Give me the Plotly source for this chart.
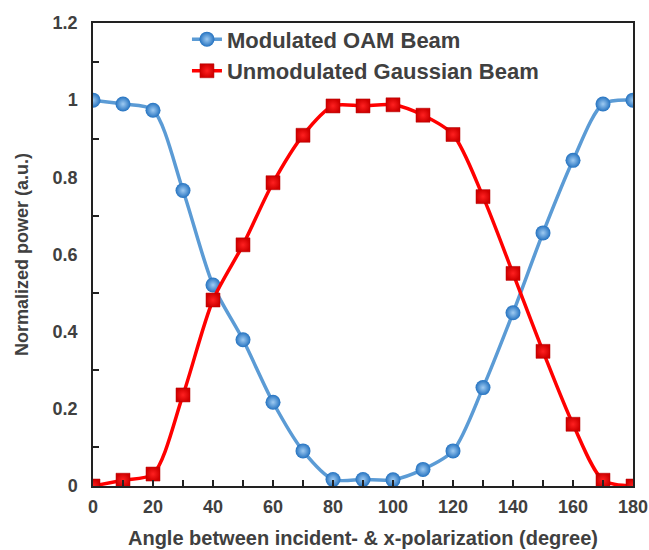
import plotly.graph_objects as go

angles = [0, 10, 20, 30, 40, 50, 60, 70, 80, 90, 100, 110, 120, 130, 140, 150, 160, 170, 180]
oam_power = [1.0, 0.99, 0.974, 0.766, 0.521, 0.379, 0.217, 0.091, 0.017, 0.017, 0.016, 0.043, 0.091, 0.255, 0.449, 0.656, 0.844, 0.99, 1.0]
gauss_power = [0.0, 0.015, 0.031, 0.236, 0.482, 0.625, 0.786, 0.909, 0.985, 0.985, 0.988, 0.961, 0.911, 0.75, 0.551, 0.349, 0.16, 0.015, 0.0]
series_names = ["Modulated OAM Beam", "Unmodulated Gaussian Beam"]
x_ticks = [0, 20, 40, 60, 80, 100, 120, 140, 160, 180]
y_ticks = [0, 0.2, 0.4, 0.6, 0.8, 1.0, 1.2]
y_tick_text = ["0", "0.2", "0.4", "0.6", "0.8", "1", "1.2"]

FONT = "Liberation Sans, Arial, sans-serif"
TXT = "#404040"

fig = go.Figure()
fig.add_trace(go.Scatter(
    x=angles, y=oam_power, name=series_names[0], mode="lines+markers",
    line=dict(color="#5B9BD5", width=3.5, shape="spline", smoothing=0.8),
    marker=dict(symbol="circle", size=15, color="#2472C0",
                gradient=dict(type="radial", color="#9FCBF2"),
                line=dict(width=0)),
))
fig.add_trace(go.Scatter(
    x=angles, y=gauss_power, name=series_names[1], mode="lines+markers",
    line=dict(color="#FF0000", width=3.5, shape="spline", smoothing=0.8),
    marker=dict(symbol="square", size=14, color="#D00000",
                gradient=dict(type="radial", color="#FF2020"),
                line=dict(width=0.5, color="#B00000")),
))

fig.update_layout(
    width=649, height=550,
    margin=dict(l=93, r=16, t=23, b=64),
    paper_bgcolor="white", plot_bgcolor="white",
    font=dict(family=FONT, color=TXT, size=18),
    showlegend=True,
    legend=dict(x=0.174, y=1.01, xanchor="left", yanchor="top",
                bgcolor="rgba(0,0,0,0)", borderwidth=0,
                font=dict(family=FONT, size=22, color=TXT, weight="bold"),
                itemwidth=30, tracegroupgap=0),
)
fig.update_xaxes(
    range=[0, 180], tickvals=x_ticks, ticks="inside", ticklen=6, tickwidth=1.5,
    tickcolor="#222", minor=dict(ticks="inside", dtick=10, ticklen=6, tickwidth=1.5, tickcolor="#222"),
    showline=True, linecolor="#222", linewidth=1.5, mirror=True,
    showgrid=False, zeroline=False, automargin=False, ticklabelstandoff=4,
    tickfont=dict(family=FONT, size=18, color=TXT, weight="bold"),
    title=dict(text="Angle between incident- & x-polarization (degree)",
               font=dict(family=FONT, size=20, color=TXT, weight="bold"), standoff=15),
)
fig.update_yaxes(
    range=[0, 1.2], tickvals=y_ticks, ticktext=y_tick_text, ticks="",
    minor=dict(ticks="inside", tickvals=[0.1, 0.3, 0.5, 0.7, 0.9, 1.1], ticklen=6, tickwidth=1.5, tickcolor="#222"),
    showline=True, linecolor="#222", linewidth=1.5, mirror=True,
    showgrid=False, zeroline=False, automargin=False, ticklabelstandoff=10,
    tickfont=dict(family=FONT, size=18, color=TXT, weight="bold"),
    title=dict(text="Normalized power (a.u.)",
               font=dict(family=FONT, size=18, color=TXT, weight="bold"), standoff=19),
)

fig.write_html("out.html",
               config={"displayModeBar": False},
               post_script="document.body.style.margin='0';document.body.style.overflow='hidden';")
